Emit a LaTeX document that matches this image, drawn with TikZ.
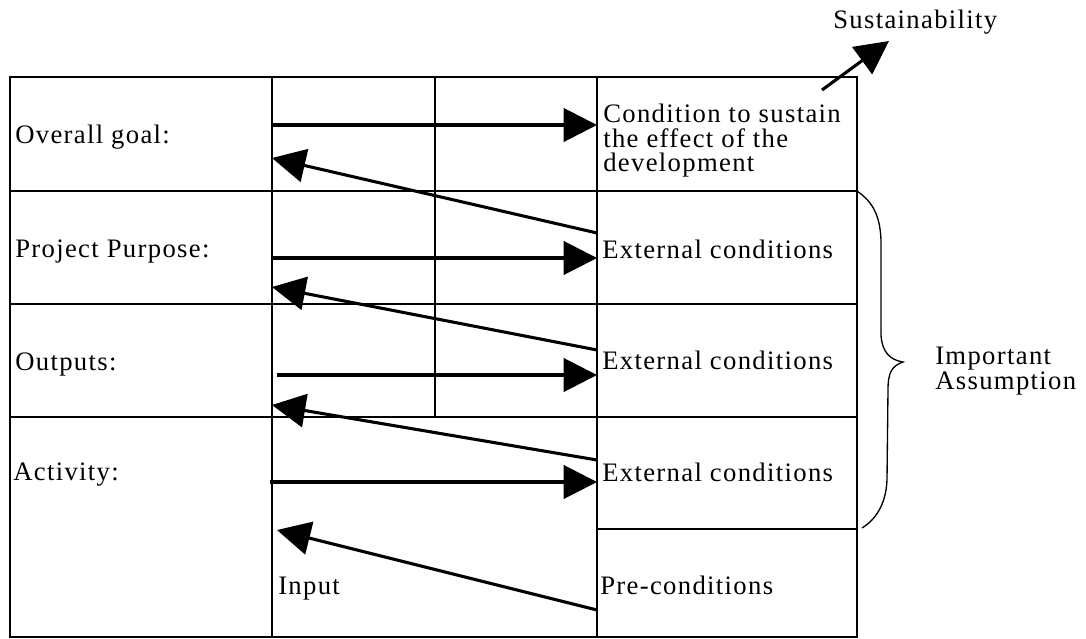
\documentclass[tikz,border=0pt]{standalone}
\usepackage{fontspec}
\setmainfont{Liberation Serif}[LetterSpace=5]
\usetikzlibrary{arrows.meta}
\begin{document}
\begin{tikzpicture}[x=0.75pt,y=-0.75pt,
  gridline/.style={line width=1pt},
  arr/.style={line width=2.3pt,-{Triangle[length=25pt,width=25pt]}},
  lbl/.style={anchor=base west,inner sep=0pt,font=\fontsize{20}{21}\selectfont},
  brace/.style={line width=1pt}]
\useasboundingbox (0,0) rectangle (1086,639);
% grid
\draw[gridline] (10,77) rectangle (857,637);
\draw[gridline] (272,77) -- (272,637);
\draw[gridline] (435,77) -- (435,417);
\draw[gridline] (597,77) -- (597,637);
\draw[gridline] (10,191) -- (857,191);
\draw[gridline] (10,304) -- (857,304);
\draw[gridline] (10,417) -- (857,417);
\draw[gridline] (597,529) -- (857,529);
% labels
\node[lbl] (goal) at (15,143) {Overall goal:};
\node[lbl] (purpose) at (15,257) {Project Purpose:};
\node[lbl] (outputs) at (15,370) {Outputs:};
\node[lbl] (activity) at (13,480) {Activity:};
\node[lbl] (input) at (278,594) {Input};
\node[lbl] (cond1) at (603,122) {Condition to sustain};
\node[lbl] (cond2) at (603,147) {the effect of the};
\node[lbl] (cond3) at (603,171) {development};
\node[lbl] (ext1) at (602,258) {External conditions};
\node[lbl] (ext2) at (602,369) {External conditions};
\node[lbl] (ext3) at (602,481) {External conditions};
\node[lbl] (pre) at (600,594) {Pre-conditions};
\node[lbl] (sust) at (833,28) {Sustainability};
\node[anchor=west,inner sep=0pt,align=left,font=\fontsize{20}{15.75}\selectfont] (imp) at (935,371) {Important\\Assumption};
% arrow end points
\coordinate (r1s) at (272,125); \coordinate (r1e) at (597,125);
\coordinate (r2s) at (272,258); \coordinate (r2e) at (597,258);
\coordinate (r3s) at (277,375); \coordinate (r3e) at (597,375);
\coordinate (r4s) at (270,482); \coordinate (r4e) at (597,482);
\coordinate (l1s) at (597,233); \coordinate (l1e) at (272,158);
\coordinate (l2s) at (597,350); \coordinate (l2e) at (272,287);
\coordinate (l3s) at (597,460); \coordinate (l3e) at (272,405);
\coordinate (l4s) at (597,610); \coordinate (l4e) at (277,530);
\coordinate (ss) at (822,90); \coordinate (se) at (889,41);
\draw[arr] (r1s) -- (r1e);
\draw[arr] (r2s) -- (r2e);
\draw[arr] (r3s) -- (r3e);
\draw[arr] (r4s) -- (r4e);
\draw[arr] (l1s) -- (l1e);
\draw[arr] (l2s) -- (l2e);
\draw[arr] (l3s) -- (l3e);
\draw[arr] (l4s) -- (l4e);
\draw[arr] (ss) -- (se);
% brace
\draw[brace] (857,191) .. controls (870,200) and (880,212) .. (881,240) -- (881,335)
  .. controls (882,352) and (890,360) .. (903,362)
  .. controls (892,366) and (888,372) .. (888,390) -- (887,480)
  .. controls (886,505) and (875,520) .. (862,528);
\end{tikzpicture}
\end{document}
